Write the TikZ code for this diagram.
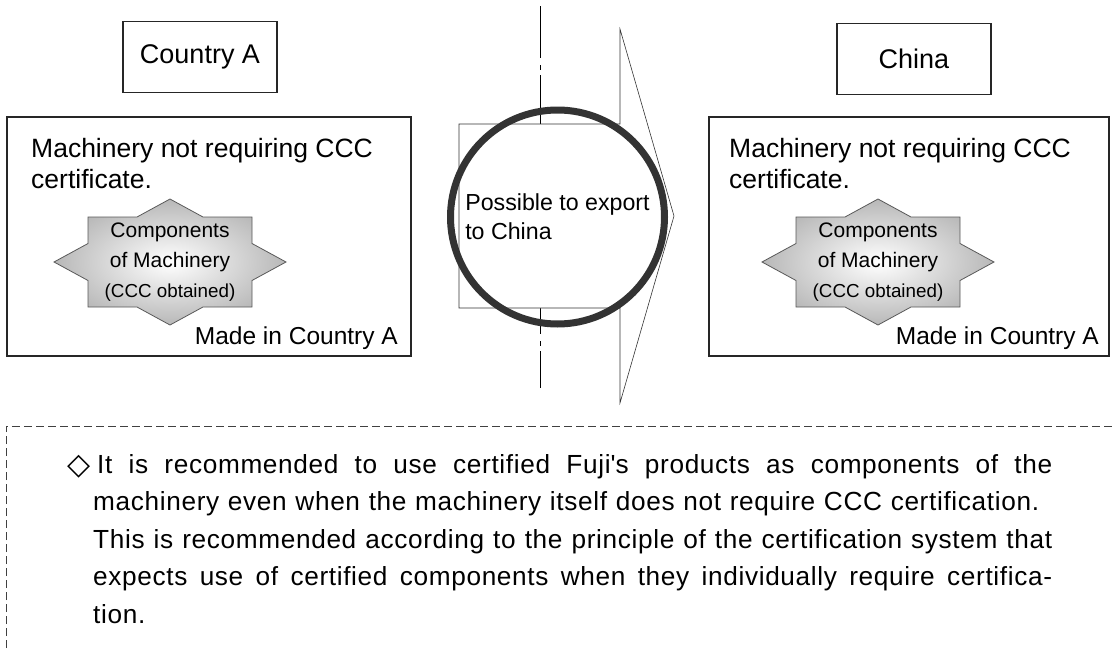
\documentclass[tikz,border=0pt]{standalone}
\usepackage{fontspec}
\setmainfont{Liberation Sans}
\newfontfamily\symfont{DejaVu Sans}
\usetikzlibrary{positioning}

\begin{document}
\begin{tikzpicture}[x=1pt,y=-1pt,
  country/.style={draw=black!85, line width=1.6pt, minimum width=154pt, minimum height=71pt, font=\fontsize{27}{34}\selectfont},
  machine/.style={draw=black!85, line width=1.6pt, minimum width=#1, minimum height=239pt},
  headtext/.style={anchor=north west, inner sep=0pt, align=left, font=\fontsize{26.5}{31}\selectfont},
  madein/.style={anchor=base east, inner sep=0pt, font=\fontsize{24.5}{30}\selectfont},
  part/.style={align=center, inner sep=0pt, font=\fontsize{21}{30}\selectfont},
  star/.style={draw=black!65, line width=0.8pt, inner color=white, outer color=black!28}]

\useasboundingbox (0,0) rectangle (1112,651);

% countries
\node (countryA) [country] at (200,57) {Country A};
\node (china) [country] at (914,59) {China};

% machinery
\node (machA) [machine=404pt] at (209,236.5) {};
\node (machC) [machine=400pt] at (909,236.5) {};
\node (textA) [headtext] at (31,138) {Machinery not requiring CCC\\certificate.};
\node (textC) [headtext] at (729,138) {Machinery not requiring CCC\\certificate.};
\node (madeA) [madein] at (398,344) {Made in Country A};
\node (madeC) [madein] at (1099,344) {Made in Country A};

% components
\foreach \cx in {170,878}
  \shadedraw [star] (\cx-82,217) -- (\cx-33,217) -- (\cx,199) -- (\cx+33,217) -- (\cx+82,217)
    -- (\cx+82,243.5) -- (\cx+116,262) -- (\cx+82,280.5) -- (\cx+82,307) -- (\cx+33,307)
    -- (\cx,325) -- (\cx-33,307) -- (\cx-82,307) -- (\cx-82,280.5) -- (\cx-116,262)
    -- (\cx-82,243.5) -- cycle;
\node (partA) [part] at (170,262) {Components\\of Machinery\\{\fontsize{18.8}{29}\selectfont(CCC obtained)}};
\node (partC) [part] at (878,262) {Components\\of Machinery\\{\fontsize{18.8}{29}\selectfont(CCC obtained)}};

% centre line and arrow
\coordinate (lineTop) at (540,6);
\coordinate (lineBot) at (540,388);
\draw [dash pattern=on 52pt off 7pt on 5pt off 5pt, line width=0.8pt] (lineTop) -- (lineBot);
\filldraw [fill=white, draw=black!80, line width=0.6pt] (459,124) -- (620,124) -- (620,29) -- (674,216)
  -- (620,403) -- (620,308) -- (459,308) -- cycle;
\node (export) [circle, draw=black!80, line width=7pt, minimum size=214pt, inner sep=0pt, align=left,
  font=\fontsize{23.2}{29}\selectfont] at (557.5,217) {Possible to export\\to China};

% note
\draw [dash pattern=on 8pt off 4pt, line width=0.8pt, black!75] (6,660) -- (6,426) -- (1120,426);
\node (note) [anchor=north west, inner sep=0pt, text width=959pt, align=justify,
  font=\fontsize{26.2}{37.5}\selectfont\addfontfeature{LetterSpace=2.5}] at (93,454) {\noindent\hspace*{-26pt}\makebox[30pt][l]{\symfont\fontsize{30}{30}\selectfont\raisebox{-1pt}{◇}}It is recommended to use certified Fuji\textquotesingle s products as components of the\linebreak
  machinery even when the machinery itself does not require CCC certification.\hspace*{13pt}\linebreak
  This is recommended according to the principle of the certification system that\linebreak
  expects use of certified components when they individually require certifica-\linebreak
  tion.};

\end{tikzpicture}
\end{document}
